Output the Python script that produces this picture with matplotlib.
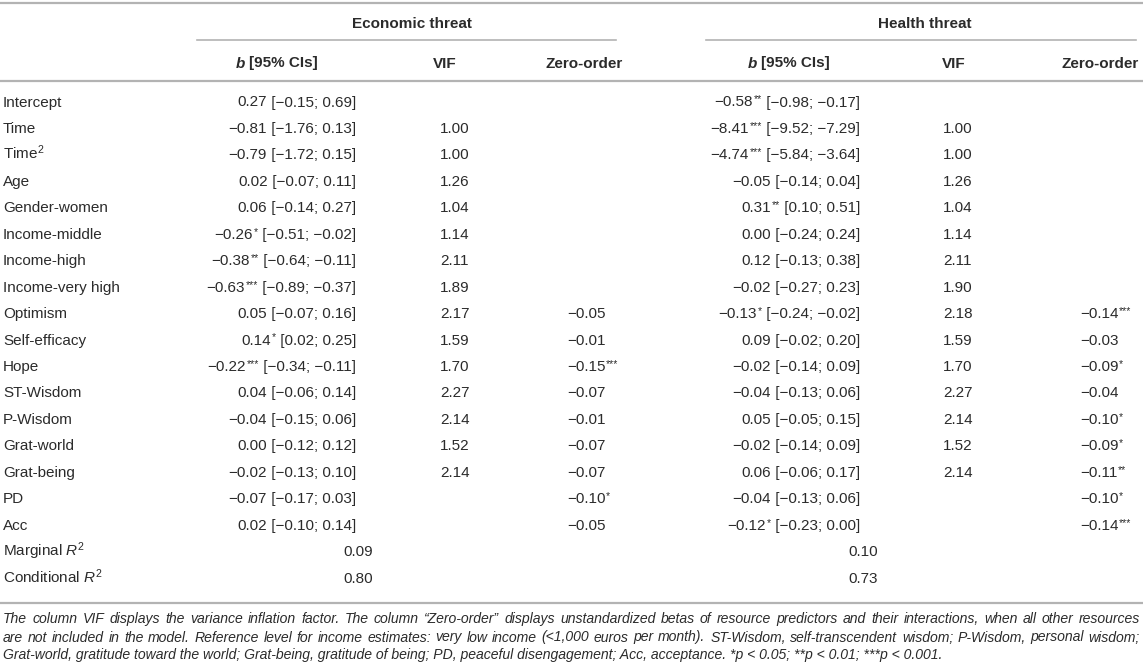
import numpy as np
import matplotlib
matplotlib.use("Agg")
import matplotlib.pyplot as plt

plt.rcParams["font.family"] = ["Liberation Sans", "DejaVu Sans"]
plt.rcParams["mathtext.fontset"] = "custom"
plt.rcParams["mathtext.rm"] = "Liberation Sans"
plt.rcParams["mathtext.it"] = "Liberation Sans:italic"
plt.rcParams["mathtext.bf"] = "Liberation Sans:bold"

# Table data
row_labels = ["Intercept", "Time", "Time$^2$", "Age", "Gender-women", "Income-middle",
              "Income-high", "Income-very high", "Optimism", "Self-efficacy", "Hope",
              "ST-Wisdom", "P-Wisdom", "Grat-world", "Grat-being", "PD", "Acc"]

econ_b = [0.27, -0.81, -0.79, 0.02, 0.06, -0.26, -0.38, -0.63, 0.05, 0.14, -0.22,
          0.04, -0.04, 0.00, -0.02, -0.07, 0.02]
econ_lo = [-0.15, -1.76, -1.72, -0.07, -0.14, -0.51, -0.64, -0.89, -0.07, 0.02, -0.34,
           -0.06, -0.15, -0.12, -0.13, -0.17, -0.10]
econ_hi = [0.69, 0.13, 0.15, 0.11, 0.27, -0.02, -0.11, -0.37, 0.16, 0.25, -0.11,
           0.14, 0.06, 0.12, 0.10, 0.03, 0.14]
econ_stars = [0, 0, 0, 0, 0, 1, 2, 3, 0, 1, 3, 0, 0, 0, 0, 0, 0]
econ_vif = [None, 1.00, 1.00, 1.26, 1.04, 1.14, 2.11, 1.89, 2.17, 1.59, 1.70,
            2.27, 2.14, 1.52, 2.14, None, None]
econ_zo = [None] * 8 + [-0.05, -0.01, -0.15, -0.07, -0.01, -0.07, -0.07, -0.10, -0.05]
econ_zo_stars = [0] * 8 + [0, 0, 3, 0, 0, 0, 0, 1, 0]

health_b = [-0.58, -8.41, -4.74, -0.05, 0.31, 0.00, 0.12, -0.02, -0.13, 0.09, -0.02,
            -0.04, 0.05, -0.02, 0.06, -0.04, -0.12]
health_lo = [-0.98, -9.52, -5.84, -0.14, 0.10, -0.24, -0.13, -0.27, -0.24, -0.02, -0.14,
             -0.13, -0.05, -0.14, -0.06, -0.13, -0.23]
health_hi = [-0.17, -7.29, -3.64, 0.04, 0.51, 0.24, 0.38, 0.23, -0.02, 0.20, 0.09,
             0.06, 0.15, 0.09, 0.17, 0.06, 0.00]
health_stars = [2, 3, 3, 0, 2, 0, 0, 0, 1, 0, 0, 0, 0, 0, 0, 0, 1]
health_vif = [None, 1.00, 1.00, 1.26, 1.04, 1.14, 2.11, 1.90, 2.18, 1.59, 1.70,
              2.27, 2.14, 1.52, 2.14, None, None]
health_zo = [None] * 8 + [-0.14, -0.03, -0.09, -0.04, -0.10, -0.09, -0.11, -0.10, -0.14]
health_zo_stars = [0] * 8 + [3, 0, 1, 0, 1, 1, 2, 1, 3]

r2_labels = ["Marginal $R^2$", "Conditional $R^2$"]
econ_r2 = [0.09, 0.80]
health_r2 = [0.10, 0.73]

footnote = [
    "The column VIF displays the variance inflation factor. The column \u201cZero-order\u201d displays unstandardized betas of resource predictors and their interactions, when all other resources",
    "are not included in the model. Reference level for income estimates: very low income (<1,000 euros per month). ST-Wisdom, self-transcendent wisdom; P-Wisdom, personal wisdom;",
    "Grat-world, gratitude toward the world; Grat-being, gratitude of being; PD, peaceful disengagement; Acc, acceptance. *p < 0.05; **p < 0.01; ***p < 0.001.",
]


def num(v):
    return f"{v:.2f}".replace("-", "\u2212")


TXT = "#2b2b2b"
RULE = "#b3b3b3"
FS = 11.0
FOOT_FS = 10.1

fig = plt.figure(figsize=(11.43, 6.67), dpi=100)
ax = fig.add_axes([0, 0, 1, 1])
ax.set_xlim(0, 1143)
ax.set_ylim(667, 0)
ax.axis("off")
renderer = fig.canvas.get_renderer()


def width(s, **kw):
    t = ax.text(0, 0, s, **kw)
    w = t.get_window_extent(renderer).width
    t.remove()
    return w


def pieces(x, y, parts, ha="left"):
    # parts: (text, kwargs, raise_px, gap_after_px); y is the baseline
    ws = [width(p[0], **p[1]) for p in parts]
    total = sum(ws) + sum(p[3] for p in parts)
    cx = x - total if ha == "right" else (x - total / 2 if ha == "center" else x)
    for (s, kw, rz, gap), w in zip(parts, ws):
        ax.text(cx, y - rz, s, ha="left", va="baseline", **kw)
        cx += w + gap


body = dict(fontsize=FS, color=TXT)
sup = dict(fontsize=FS * 0.68, color=TXT)
bold = dict(fontsize=FS, color=TXT, weight="bold")
SPACE = 3.9


def value_parts(v, n, tail=None):
    parts = [(num(v), body, 0, 0.6 if n else 0)]
    if n:
        parts.append(("*" * n, sup, 4.0, 0))
    if tail:
        parts.append((tail, body, 0, 0))
    return parts


# rules
ax.plot([0, 1143], [3, 3], color=RULE, lw=1.6)
ax.plot([197, 616], [40, 40], color=RULE, lw=1.2)
ax.plot([706, 1136], [40, 40], color=RULE, lw=1.2)
ax.plot([0, 1143], [81, 81], color=RULE, lw=1.6)
ax.plot([0, 1143], [603, 603], color=RULE, lw=1.6)

# group and column headers
HB = 62 + 5.5
ax.text(412, 23 + 5.5, "Economic threat", ha="center", va="baseline", **bold)
ax.text(925, 23 + 5.5, "Health threat", ha="center", va="baseline", **bold)
for cx in (277, 789):
    pieces(cx, HB, [("b", dict(bold, style="italic"), 0, SPACE), ("[95% CIs]", bold, 0, 0)],
           ha="center")
for cx in (445, 954):
    ax.text(cx, HB, "VIF", ha="center", va="baseline", **bold)
for cx in (584, 1100):
    ax.text(cx, HB, "Zero-order", ha="center", va="baseline", **bold)

y0, dy = 101, 26.45
cols = [
    (econ_b, econ_lo, econ_hi, econ_stars, econ_vif, econ_zo, econ_zo_stars, 356, 440, 567),
    (health_b, health_lo, health_hi, health_stars, health_vif, health_zo, health_zo_stars,
     860, 943, 1080),
]
for i, lab in enumerate(row_labels):
    yb = y0 + i * dy + 5.5
    ax.text(3, yb, lab, ha="left", va="baseline", **body)
    for b, lo, hi, st, vif, zo, zst, xb, xv, xz in cols:
        tail = f" [{num(lo[i])}; {num(hi[i])}]"
        pieces(xb, yb, value_parts(b[i], st[i], tail), ha="right")
        if vif[i] is not None:
            ax.text(xv, yb, num(vif[i]), ha="left", va="baseline", **body)
        if zo[i] is not None:
            pieces(xz, yb, value_parts(zo[i], zst[i]), ha="left")

for j, lab in enumerate(r2_labels):
    yb = y0 + (len(row_labels) + j) * dy + 5.5
    ax.text(3, yb, lab, ha="left", va="baseline", **body)
    ax.text(343, yb, num(econ_r2[j]), ha="left", va="baseline", **body)
    ax.text(848, yb, num(health_r2[j]), ha="left", va="baseline", **body)

# footnote, justified except the last line
foot = dict(fontsize=FOOT_FS, color=TXT, style="italic")
fy = [618, 636.5, 654]
for k, line in enumerate(footnote):
    yb = fy[k] + 5
    if k == len(footnote) - 1:
        ax.text(3, yb, line, ha="left", va="baseline", **foot)
        continue
    words = line.split(" ")
    ws = [width(w_, **foot) for w_ in words]
    gap = (1140 - 3 - sum(ws)) / (len(words) - 1)
    cx = 3
    for w_, wd in zip(words, ws):
        ax.text(cx, yb, w_, ha="left", va="baseline", **foot)
        cx += wd + gap

fig.savefig("out.png", dpi=100)
